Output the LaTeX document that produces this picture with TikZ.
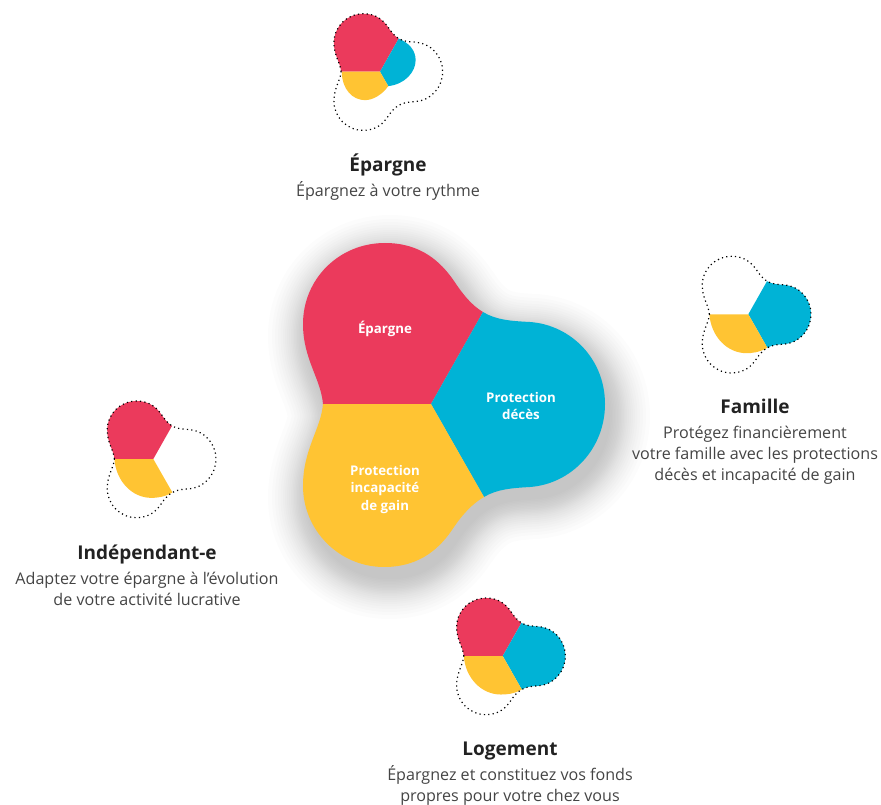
\documentclass[tikz,border=0pt]{standalone}
\usepackage{fontspec}
\setmainfont{Open Sans}
\definecolor{lobered}{HTML}{EB3A5C}
\definecolor{lobeblue}{HTML}{00B3D6}
\definecolor{lobeyellow}{HTML}{FFC433}
\definecolor{titlegray}{HTML}{222222}
\definecolor{textgray}{HTML}{444444}
\newcommand{\redcurve}{.. controls (-110,25) and (-128,45) .. (-128,80) .. controls (-128,125) and (-92,161) .. (-46,161) .. controls (-10,161) and (10,142) .. (23,123) .. controls (31,111) and (40,99) .. (52,92)}
\newcommand{\bluecurve}{.. controls (65,84) and (80,83) .. (99,82) .. controls (140,79) and (174,45) .. (174,0) .. controls (174,-45) and (140,-80) .. (99,-83) .. controls (82,-84) and (66,-85) .. (53,-93)}
\newcommand{\yellowcurve}{.. controls (42,-99) and (31,-111) .. (23,-123) .. controls (10,-143) and (-10,-163) .. (-47,-163) .. controls (-92,-163) and (-128,-126) .. (-128,-82) .. controls (-128,-45) and (-110,-25) .. (-108,0)}
\tikzset{
    dotline/.style={line width=1.2pt, dash pattern=on 1.2pt off 3.2pt, draw=black},
    mainlabel/.style={text=white, font=\fontsize{13.3}{17.4}\selectfont\bfseries, align=center},
    title/.style={text=titlegray, font=\fontsize{19}{23}\selectfont\bfseries},
    subtitle/.style={text=textgray, font=\fontsize{16.1}{21}\selectfont, align=center},
}
\begin{document}
\begin{tikzpicture}[x=1pt, y=1pt]
    \useasboundingbox (0,0) rectangle (881,-805);

    % Shadow
    \begin{scope}[shift={(436,-416)}]
        \foreach \w in {1,4,7,10,13,16,19,22,25,28,31,34,38,42,46,50,55,60,66,72,80} {
            \begin{scope}[transparency group, opacity=0.012]
                \filldraw[black, line width=\w pt, line join=round]
                    (-108,0) \redcurve \bluecurve \yellowcurve -- cycle;
            \end{scope}
        }
    \end{scope}

    % Central shape
    \begin{scope}[shift={(431,-404)}]
        \fill[lobered] (-108,0) \redcurve -- (0,0) -- cycle;
        \fill[lobeblue] (52,92) \bluecurve -- (0,0) -- cycle;
        \fill[lobeyellow] (53,-93) \yellowcurve -- (0,0) -- cycle;
    \end{scope}

    % Epargne
    \begin{scope}[shift={(380,-71.7)}, scale=0.36]
        \fill[lobered] (-108,0) \redcurve -- (0,0) -- cycle;
        \fill[lobeblue] (52,92) .. controls (80,80) and (99,60) .. (99,32) .. controls (99,0) and (70,-35) .. (23,-40) -- (0,0) -- cycle;
        \fill[lobeyellow] (23,-40) .. controls (5,-65) and (-20,-79) .. (-42,-79) .. controls (-75,-79) and (-106,-50) .. (-106,0) -- (0,0) -- cycle;
        \draw[dotline] (-108,0) \redcurve \bluecurve \yellowcurve -- cycle;
    \end{scope}

    % Famille
    \begin{scope}[shift={(748.3,-314.3)}, scale=0.36]
        \fill[lobeblue] (52,92) \bluecurve -- (0,0) -- cycle;
        \fill[lobeyellow] (53,-93) .. controls (30,-106) and (10,-108) .. (-5,-108) .. controls (-60,-108) and (-104,-60) .. (-108,0) -- (0,0) -- cycle;
        \draw[dotline] (-108,0) \redcurve \bluecurve \yellowcurve -- cycle;
    \end{scope}

    % Independant
    \begin{scope}[shift={(153.3,-459)}, scale=0.36]
        \fill[lobered] (-108,0) \redcurve -- (0,0) -- cycle;
        \fill[lobeyellow] (53,-93) .. controls (30,-106) and (10,-108) .. (-5,-108) .. controls (-60,-108) and (-104,-60) .. (-108,0) -- (0,0) -- cycle;
        \draw[dotline] (-108,0) \redcurve \bluecurve \yellowcurve -- cycle;
    \end{scope}

    % Logement
    \begin{scope}[shift={(502.7,-656)}, scale=0.36]
        \fill[lobered] (-108,0) \redcurve -- (0,0) -- cycle;
        \fill[lobeblue] (52,92) \bluecurve -- (0,0) -- cycle;
        \fill[lobeyellow] (53,-93) .. controls (30,-106) and (10,-107) .. (-5,-107) .. controls (-60,-107) and (-104,-60) .. (-108,0) -- (0,0) -- cycle;
        \draw[dotline] (-108,0) \redcurve \bluecurve \yellowcurve -- cycle;
    \end{scope}

    % Labels
    \node[mainlabel] (mainred) at (385,-329) {Épargne};
    \node[mainlabel] (mainblue) at (521,-406) {Protection\\décès};
    \node[mainlabel] (mainyellow) at (385,-489.5) {Protection\\incapacité\\de gain};

    \node[title] (epargne) at (388,-165) {Épargne};
    \node[subtitle] (epargnetxt) at (388,-191) {Épargnez à votre rythme};
    \node[title] (famille) at (755,-406) {Famille};
    \node[subtitle] (familletxt) at (755,-455.5) {Protégez financièrement\\votre famille avec les protections\\décès et incapacité de gain};
    \node[title] (indep) at (147,-555) {Indépendant-e};
    \node[subtitle] (indeptxt) at (147,-589) {Adaptez votre épargne à l’évolution\\de votre activité lucrative};
    \node[title] (logement) at (510,-751) {Logement};
    \node[subtitle] (logementtxt) at (510,-785.5) {Épargnez et constituez vos fonds\\propres pour votre chez vous};
\end{tikzpicture}
\end{document}
